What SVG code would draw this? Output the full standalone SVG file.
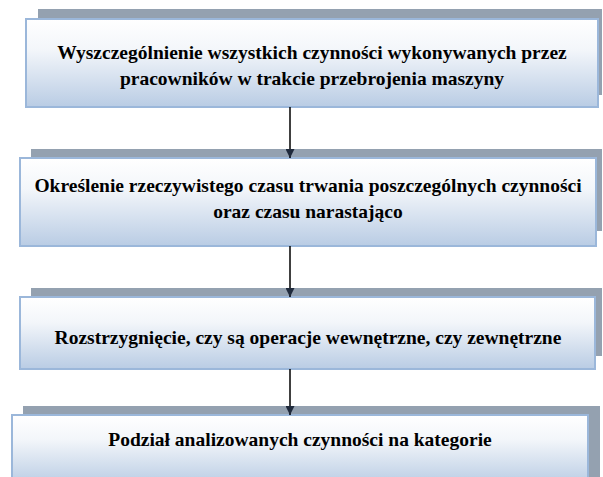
<svg xmlns="http://www.w3.org/2000/svg" width="603" height="477" viewBox="0 0 603 477">
<defs>
<linearGradient id="g" x1="0" y1="0" x2="0" y2="1">
<stop offset="0" stop-color="#ffffff"/>
<stop offset="0.35" stop-color="#f3f6fa"/>
<stop offset="1" stop-color="#b9cce4"/>
</linearGradient>
<marker id="ah" viewBox="0 0 10 10" refX="10" refY="5" markerWidth="9" markerHeight="9" markerUnits="userSpaceOnUse" orient="auto">
<path d="M0,0 L10,5 L0,10 z" fill="#1f2a3c"/>
</marker>
<style>
.sh{fill:#94a1b0;}
.bx{fill:url(#g);stroke:#9bb7da;stroke-width:2;}
.t{font-family:'Liberation Serif','Times New Roman','DejaVu Serif',serif;font-weight:700;font-size:19.5px;fill:#000;text-anchor:middle;}
.c{stroke:#000;stroke-width:1.5;fill:none;}
</style>
</defs>
<g id="node1">
<rect class="sh" x="38" y="9" width="564" height="86"/>
<rect class="bx" x="26" y="19" width="572" height="88"/>
<text class="t" x="312" y="59">Wyszczególnienie wszystkich czynności wykonywanych przez</text>
<text class="t" x="312" y="85">pracowników w trakcie przebrojenia maszyny</text>
</g>
<g id="node2">
<rect class="sh" x="31" y="149" width="571" height="82"/>
<rect class="bx" x="20" y="158" width="576" height="88"/>
<text class="t" x="308" y="192">Określenie rzeczywistego czasu trwania poszczególnych czynności</text>
<text class="t" x="308" y="218">oraz czasu narastająco</text>
</g>
<g id="node3">
<rect class="sh" x="31" y="288" width="571" height="68"/>
<rect class="bx" x="20" y="297" width="575" height="72"/>
<text class="t" x="308" y="344">Rozstrzygnięcie, czy są operacje wewnętrzne, czy zewnętrzne</text>
</g>
<g id="node4">
<rect class="sh" x="23" y="406" width="577" height="71"/>
<rect class="bx" x="12" y="415" width="576" height="70"/>
<text class="t" x="300" y="446">Podział analizowanych czynności na kategorie</text>
</g>
<g id="connectors">
<line class="c" x1="290" y1="107" x2="290" y2="158" marker-end="url(#ah)"/>
<line class="c" x1="290" y1="246" x2="290" y2="297" marker-end="url(#ah)"/>
<line class="c" x1="290" y1="369" x2="290" y2="415" marker-end="url(#ah)"/>
</g>
</svg>
